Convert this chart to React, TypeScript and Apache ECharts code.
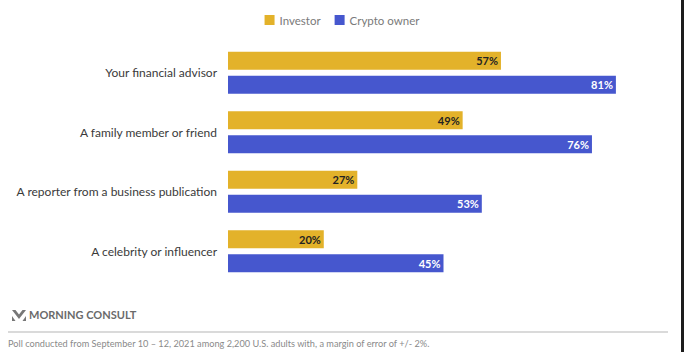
import React, { useEffect, useRef } from "react";
import * as echarts from "echarts";

const categories = [
  "Your financial advisor",
  "A family member or friend",
  "A reporter from a business publication",
  "A celebrity or influencer",
];
const investorValues = [57, 49, 27, 20];
const cryptoValues = [81, 76, 53, 45];
const seriesNames = ["Investor", "Crypto owner"];

export default function App() {
  const ref = useRef<HTMLDivElement>(null);
  useEffect(() => {
    if (!ref.current) return;
    const chart = echarts.init(ref.current, null, { renderer: "svg" });
    const font = "Lato";
    chart.setOption({
      animation: false,
      backgroundColor: "#ffffff",
      textStyle: { fontFamily: font },
      legend: {
        top: 9,
        left: "center",
        itemWidth: 10,
        itemHeight: 10,
        itemGap: 14,
        icon: "rect",
        textStyle: { color: "#7a7a7a", fontSize: 11.5, fontFamily: font },
        data: seriesNames,
      },
      grid: { left: 228, right: 25, top: 43, bottom: 71 },
      xAxis: {
        type: "value",
        min: 0,
        max: 90,
        show: false,
      },
      yAxis: {
        type: "category",
        inverse: true,
        data: categories,
        axisLine: { show: false },
        axisTick: { show: false },
        axisLabel: { color: "#3a3a3a", fontSize: 12, margin: 11, fontFamily: font },
      },
      series: [
        {
          name: seriesNames[0],
          type: "bar",
          data: investorValues,
          barWidth: 18,
          barGap: "33%",
          itemStyle: { color: "#E3B22A" },
          label: {
            show: true,
            position: "insideRight",
            formatter: "{c}%",
            color: "#222222",
            fontWeight: "bold",
            fontSize: 11,
            distance: 3,
            fontFamily: font,
          },
        },
        {
          name: seriesNames[1],
          type: "bar",
          data: cryptoValues,
          barWidth: 18,
          itemStyle: { color: "#4657CE" },
          label: {
            show: true,
            position: "insideRight",
            formatter: "{c}%",
            color: "#ffffff",
            fontWeight: "bold",
            fontSize: 11,
            distance: 3,
            fontFamily: font,
          },
        },
      ],
      graphic: [
        {
          type: "polygon",
          shape: { points: [[12, 310], [15.5, 310], [19, 314.5], [22.5, 310], [26, 310], [19, 319]] },
          style: { fill: "#777777" },
        },
        {
          type: "polygon",
          shape: { points: [[12, 316], [15.5, 321], [12, 321]] },
          style: { fill: "#777777" },
        },
        {
          type: "polygon",
          shape: { points: [[26, 316], [26, 321], [22.5, 321]] },
          style: { fill: "#777777" },
        },
        {
          type: "text",
          x: 29,
          y: 309,
          style: {
            text: "MORNING CONSULT",
            fill: "#6a6a6a",
            font: "bold 11px Lato",
          },
        },
        {
          type: "line",
          shape: { x1: 8, y1: 332, x2: 668, y2: 332 },
          style: { stroke: "#b5b5b5", lineWidth: 1 },
        },
        {
          type: "text",
          x: 8,
          y: 339,
          style: {
            text: "Poll conducted from September 10 – 12, 2021 among 2,200 U.S. adults with, a margin of error of +/- 2%.",
            fill: "#8a8a8a",
            font: "9.2px Lato",
          },
        },
        {
          type: "rect",
          shape: { x: 681, y: 0, width: 3, height: 352 },
          style: { fill: "#1c1c1c" },
        },
      ],
    });
    return () => chart.dispose();
  }, []);
  return <div ref={ref} style={{ width: 684, height: 352, position: "absolute", left: 0, top: 0 }} />;
}
